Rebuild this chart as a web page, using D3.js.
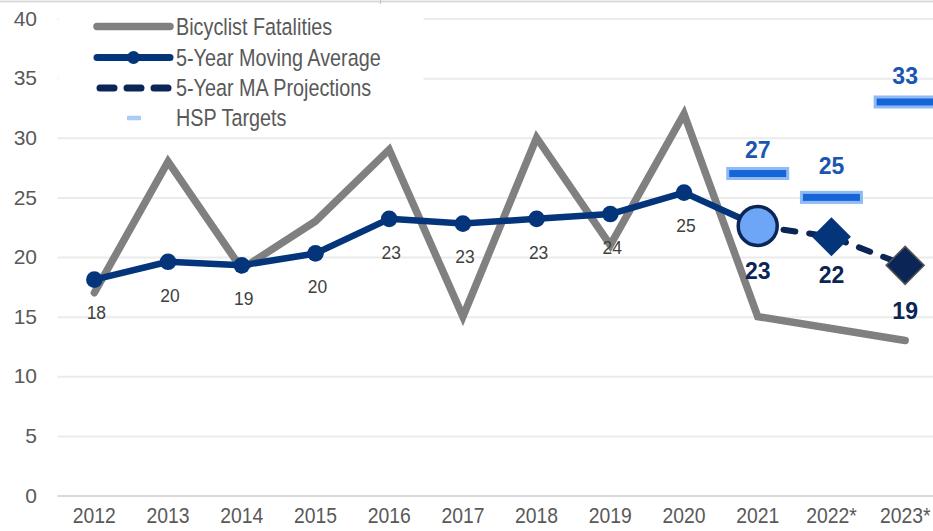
<!DOCTYPE html>
<html>
<head>
<meta charset="utf-8">
<script src="https://cdn.jsdelivr.net/npm/d3@7"></script>
<style>
  html, body { margin: 0; padding: 0; background: #fff; }
  svg { display: block; }
</style>
</head>
<body>
<svg id="chart" width="933" height="531"></svg>
<script>
// ---- data ----
const categories = ["2012","2013","2014","2015","2016","2017","2018","2019","2020","2021","2022*","2023*"];
const fatalities = [17, 28, 19, 23, 29, 15, 30, 21, 32, 15, 14, 13];
const movingAvg  = [18.1, 19.6, 19.3, 20.3, 23.2, 22.8, 23.2, 23.6, 25.4, 22.6, null, null];
const projCats   = ["2021", "2022*", "2023*"];
const projections = [22.6, 21.7, 19.3];
const targetCats = ["2021", "2022*", "2023*"];
const targets    = [27, 25, 33];
const yTicks     = [0, 5, 10, 15, 20, 25, 30, 35, 40];
const legendLabels = ["Bicyclist Fatalities", "5-Year Moving Average", "5-Year MA Projections", "HSP Targets"];

// ---- style ----
const C = {
  grey: "#808080", navy: "#04357b", dark: "#0b2556", lightBlue: "#6ea6f7",
  barFill: "#1565d8", barEdge: "#8fbaf4", targetText: "#1a56b0",
  label: "#404040", axis: "#595959", grid: "#ebebeb"
};
const FONT = "'Liberation Sans', Arial, sans-serif";

const svg = d3.select("#chart");
const plotLeft = 57.5;
const x = d3.scaleBand().domain(categories).range([plotLeft, 942]).padding(0);
const cx = c => x(c) + x.bandwidth() / 2;
const y = d3.scaleLinear().domain([0, 40]).range([495.5, 18.5]);

// top border
svg.append("line").attr("x1", 0).attr("x2", 933).attr("y1", 1.5).attr("y2", 1.5)
  .attr("stroke", "#d9d9d9").attr("stroke-width", 2);
svg.append("line").attr("x1", 380.5).attr("x2", 380.5).attr("y1", 0).attr("y2", 4)
  .attr("stroke", "#bfbfbf").attr("stroke-width", 1);

// gridlines
const grid = svg.append("g").attr("transform", `translate(${plotLeft},0)`)
  .call(d3.axisLeft(y).tickValues(yTicks).tickSize(-(942 - plotLeft)).tickFormat(""));
grid.select(".domain").remove();
grid.selectAll(".tick line").attr("stroke", d => d === 0 ? "#d9d9d9" : C.grid).attr("stroke-width", 2);

// y axis labels
const yAxis = svg.append("g").attr("transform", "translate(37,0)")
  .call(d3.axisLeft(y).tickValues(yTicks).tickSize(0).tickPadding(0));
yAxis.select(".domain").remove();
yAxis.selectAll("text").attr("font-family", FONT).attr("font-size", 21).attr("fill", C.axis);

// x axis labels (slightly condensed)
const xAxis = svg.append("g").attr("transform", "translate(0,505)")
  .call(d3.axisBottom(x).tickSize(0).tickPadding(0));
xAxis.select(".domain").remove();
xAxis.selectAll(".tick text").attr("font-family", FONT).attr("font-size", 21.5).attr("fill", C.axis)
  .attr("dy", "0.85em").attr("transform", "scale(0.9,1)");

// legend background
svg.append("rect").attr("x", plotLeft + 1).attr("y", 4).attr("width", 365).attr("height", 127).attr("fill", "#fff");

// fatalities line
const lineGen = d3.line().defined(d => d[1] != null).x(d => cx(d[0])).y(d => y(d[1]));
svg.append("path").datum(categories.map((c, i) => [c, fatalities[i]]))
  .attr("d", lineGen).attr("fill", "none").attr("stroke", C.grey)
  .attr("stroke-width", 7.5).attr("stroke-linejoin", "miter").attr("stroke-linecap", "round");

// HSP target bars
targetCats.forEach((c, i) => {
  svg.append("rect").attr("x", cx(c) - 30).attr("y", y(targets[i]) - 5)
    .attr("width", 60).attr("height", 10)
    .attr("fill", C.barFill).attr("stroke", C.barEdge).attr("stroke-width", 3);
});
const targetDy = [-24, -31, -26];
svg.selectAll(".tlabel").data(targets).join("text")
  .attr("x", (d, i) => cx(targetCats[i])).attr("y", (d, i) => y(d) + targetDy[i] + 8)
  .attr("text-anchor", "middle").attr("font-family", FONT).attr("font-weight", "bold")
  .attr("font-size", 23).attr("fill", C.targetText).text(d => d);

// projection dashed line
svg.append("path").datum(projCats.map((c, i) => [c, projections[i]]))
  .attr("d", lineGen).attr("fill", "none").attr("stroke", C.dark)
  .attr("stroke-width", 6).attr("stroke-dasharray", "12,14").attr("stroke-linecap", "round");

// moving average line
const maData = categories.map((c, i) => [c, movingAvg[i]]).filter(d => d[1] != null);
svg.append("path").datum(maData).attr("d", lineGen).attr("fill", "none")
  .attr("stroke", C.navy).attr("stroke-width", 6.5).attr("stroke-linejoin", "round");
svg.selectAll(".madot").data(maData.slice(0, -1)).join("circle")
  .attr("cx", d => cx(d[0])).attr("cy", d => y(d[1])).attr("r", 8.3).attr("fill", C.navy);
svg.selectAll(".malabel").data(maData.slice(0, -1)).join("text")
  .attr("transform", d => `translate(${cx(d[0]) + 2},${y(d[1]) + 33 + 6.8}) scale(0.92,1)`)
  .attr("text-anchor", "middle").attr("font-family", FONT).attr("font-size", 19)
  .attr("fill", C.label).text(d => Math.round(d[1]));

// projection markers
svg.append("circle").attr("cx", cx(projCats[0])).attr("cy", y(projections[0])).attr("r", 19.5)
  .attr("fill", C.lightBlue).attr("stroke", C.dark).attr("stroke-width", 3.5);
const diamond = s => `M0,${-s}L${s},0L0,${s}L${-s},0Z`;
svg.append("path").attr("d", diamond(19.5))
  .attr("transform", `translate(${cx(projCats[1])},${y(projections[1])})`).attr("fill", C.navy);
svg.append("path").attr("d", diamond(19))
  .attr("transform", `translate(${cx(projCats[2])},${y(projections[2])})`)
  .attr("fill", C.dark).attr("stroke", "#555").attr("stroke-width", 1.5);
const projDy = [45, 38, 46];
svg.selectAll(".plabel").data(projections).join("text")
  .attr("x", (d, i) => cx(projCats[i])).attr("y", (d, i) => y(d) + projDy[i] + 8)
  .attr("text-anchor", "middle").attr("font-family", FONT).attr("font-weight", "bold")
  .attr("font-size", 23).attr("fill", C.dark).text(d => Math.round(d));

// legend
const lg = svg.append("g");
const rowY = [26.5, 57.5, 88, 118];
const lx1 = 97, lx2 = 170, tx = 176;
lg.append("line").attr("x1", lx1).attr("x2", lx2).attr("y1", rowY[0]).attr("y2", rowY[0])
  .attr("stroke", C.grey).attr("stroke-width", 7.5).attr("stroke-linecap", "round");
lg.append("line").attr("x1", lx1).attr("x2", lx2).attr("y1", rowY[1]).attr("y2", rowY[1])
  .attr("stroke", C.navy).attr("stroke-width", 7).attr("stroke-linecap", "round");
lg.append("circle").attr("cx", (lx1 + lx2) / 2).attr("cy", rowY[1]).attr("r", 6.5).attr("fill", C.navy);
lg.append("line").attr("x1", lx1 + 3).attr("x2", lx2).attr("y1", rowY[2]).attr("y2", rowY[2])
  .attr("stroke", C.dark).attr("stroke-width", 7).attr("stroke-dasharray", "14,13").attr("stroke-linecap", "round");
lg.append("line").attr("x1", 127).attr("x2", 141).attr("y1", rowY[3]).attr("y2", rowY[3])
  .attr("stroke", "#a9cdf7").attr("stroke-width", 4.5);
lg.selectAll(".ltext").data(legendLabels).join("text")
  .attr("transform", (d, i) => `translate(${tx},${rowY[i] + 8.3}) scale(0.843,1)`)
  .attr("font-family", FONT).attr("font-size", 23.5).attr("fill", C.axis).text(d => d);
</script>
</body>
</html>
